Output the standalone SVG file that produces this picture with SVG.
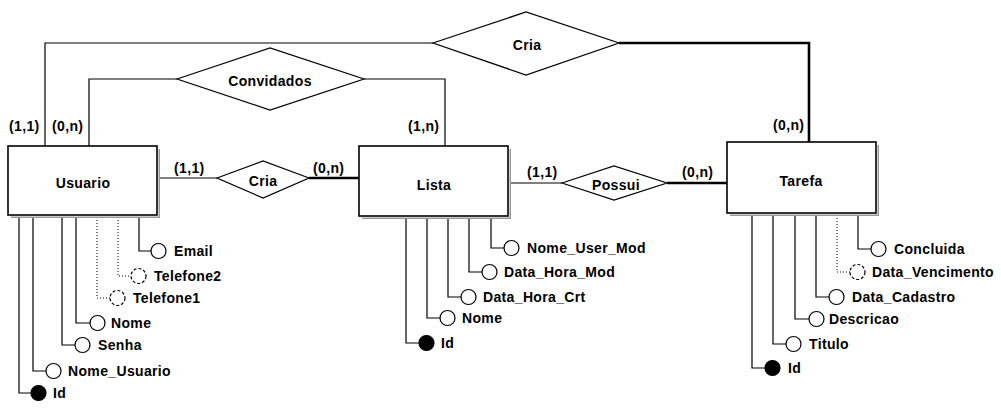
<svg xmlns="http://www.w3.org/2000/svg" width="1001" height="413" viewBox="0 0 1001 413">
<style>
text{font-family:"Liberation Sans",Arial,sans-serif;font-weight:bold;font-size:14px;letter-spacing:0.35px;fill:#000}
.c{text-anchor:middle}
.ln{fill:none;stroke:#000;stroke-width:1.2}
.thick{fill:none;stroke:#000;stroke-width:2.6}
.dot{fill:none;stroke:#000;stroke-width:1;stroke-dasharray:1,2}
.ent{fill:#fff;stroke:#000;stroke-width:1.6}
.sh{fill:#999;stroke:none}
.gap{fill:#fff;stroke:none}
.rel{fill:#fff;stroke:#000;stroke-width:1.2}
.att{fill:#fff;stroke:#000;stroke-width:1.2}
.opt{fill:#fff;stroke:#000;stroke-width:1.2;stroke-dasharray:3,2}
.key{fill:#000;stroke:#000;stroke-width:1.2}
</style>
<rect width="1001" height="413" fill="#fff"/>
<g id="connectors">
<polyline class="ln" points="45,146 45,43 433,43"/>
<polyline class="thick" points="619,43 809,43 809,142"/>
<polyline class="ln" points="177,79 89,79 89,146"/>
<polyline class="ln" points="364,79 445,79 445,146"/>
<line class="ln" x1="160" y1="178" x2="217" y2="178"/>
<line class="thick" x1="309" y1="178" x2="359" y2="178"/>
<line class="ln" x1="511" y1="183" x2="562" y2="183"/>
<line class="thick" x1="667" y1="183" x2="727" y2="183"/>
<!-- Usuario attributes -->
<polyline class="ln" points="139,217 139,251 151,251"/>
<polyline class="dot" points="118,217 118,276 131,276"/>
<polyline class="dot" points="97,217 97,298 110,298"/>
<polyline class="ln" points="76,217 76,323 90,323"/>
<polyline class="ln" points="62,217 62,345 75,345"/>
<polyline class="ln" points="33,217 33,371 46,371"/>
<polyline class="ln" points="19,217 19,393 31,393"/>
<!-- Lista attributes -->
<polyline class="ln" points="491,218 491,248 504,248"/>
<polyline class="ln" points="469,218 469,272 482,272"/>
<polyline class="ln" points="448,218 448,297 461,297"/>
<polyline class="ln" points="427,218 427,318 440,318"/>
<polyline class="ln" points="406,218 406,343 419,343"/>
<!-- Tarefa attributes -->
<polyline class="ln" points="858,215 858,249 871,249"/>
<polyline class="dot" points="837,215 837,272 850,272"/>
<polyline class="ln" points="816,215 816,297 829,297"/>
<polyline class="ln" points="795,215 795,319 809,319"/>
<polyline class="ln" points="773,215 773,344 786,344"/>
<polyline class="ln" points="752,215 752,368 765,368"/>
</g>
<g id="usuario">
<rect class="sh" x="11" y="149" width="149" height="69"/>
<rect class="gap" x="8" y="146" width="150.5" height="70.5"/>
<rect class="ent" x="8" y="146" width="149" height="69"/>
<text class="c" x="83" y="188">Usuario</text>
</g>
<g id="lista">
<rect class="sh" x="362" y="149" width="149" height="70"/>
<rect class="gap" x="359" y="146" width="150.5" height="71.5"/>
<rect class="ent" x="359" y="146" width="149" height="70"/>
<text class="c" x="434" y="190">Lista</text>
</g>
<g id="tarefa">
<rect class="sh" x="730" y="145" width="149" height="71"/>
<rect class="gap" x="727" y="142" width="150.5" height="72.5"/>
<rect class="ent" x="727" y="142" width="149" height="71"/>
<text class="c" x="801" y="186">Tarefa</text>
</g>
<g id="rel-cria-top">
<polygon class="rel" points="433,43 526,12 619,43 526,75"/>
<text class="c" x="527" y="50">Cria</text>
</g>
<g id="rel-convidados">
<polygon class="rel" points="177,79 270,48 364,79 270,110"/>
<text class="c" x="270" y="86">Convidados</text>
</g>
<g id="rel-cria">
<polygon class="rel" points="217,178 263,161 309,178 263,198"/>
<text class="c" x="263" y="186">Cria</text>
</g>
<g id="rel-possui">
<polygon class="rel" points="562,183 614,166 667,183 614,200"/>
<text class="c" x="616" y="190">Possui</text>
</g>
<g id="cardinalities">
<text x="9" y="131">(1,1)</text>
<text x="52" y="131">(0,n)</text>
<text x="408" y="131">(1,n)</text>
<text x="174" y="173">(1,1)</text>
<text x="313" y="173">(0,n)</text>
<text x="527" y="177">(1,1)</text>
<text x="682" y="177">(0,n)</text>
<text x="773" y="130">(0,n)</text>
</g>
<g id="usuario-attrs">
<circle class="att" cx="158.5" cy="251" r="7.5"/><text x="174" y="256">Email</text>
<circle class="opt" cx="138.5" cy="276" r="7.5"/><text x="154" y="281">Telefone2</text>
<circle class="opt" cx="117.5" cy="298" r="7.5"/><text x="133" y="303">Telefone1</text>
<circle class="att" cx="97.5" cy="323" r="7.5"/><text x="111" y="328">Nome</text>
<circle class="att" cx="82.5" cy="345" r="7.5"/><text x="98" y="350">Senha</text>
<circle class="att" cx="53.5" cy="371" r="7.5"/><text x="68" y="376">Nome_Usuario</text>
<circle class="key" cx="38.5" cy="393" r="7.5"/><text x="53" y="398">Id</text>
</g>
<g id="lista-attrs">
<circle class="att" cx="511.5" cy="248" r="7.5"/><text x="527" y="253">Nome_User_Mod</text>
<circle class="att" cx="489.5" cy="272" r="7.5"/><text x="504" y="277">Data_Hora_Mod</text>
<circle class="att" cx="468.5" cy="297" r="7.5"/><text x="483" y="302">Data_Hora_Crt</text>
<circle class="att" cx="447.5" cy="318" r="7.5"/><text x="462" y="323">Nome</text>
<circle class="key" cx="426.5" cy="343" r="7.5"/><text x="441" y="348">Id</text>
</g>
<g id="tarefa-attrs">
<circle class="att" cx="878.5" cy="249" r="7.5"/><text x="894" y="254">Concluida</text>
<circle class="opt" cx="857.5" cy="272" r="7.5"/><text x="872" y="277">Data_Vencimento</text>
<circle class="att" cx="836.5" cy="297" r="7.5"/><text x="852" y="302">Data_Cadastro</text>
<circle class="att" cx="816.5" cy="319" r="7.5"/><text x="829" y="324">Descricao</text>
<circle class="att" cx="793.5" cy="344" r="7.5"/><text x="809" y="349">Titulo</text>
<circle class="key" cx="772.5" cy="368" r="7.5"/><text x="788" y="373">Id</text>
</g>
</svg>
